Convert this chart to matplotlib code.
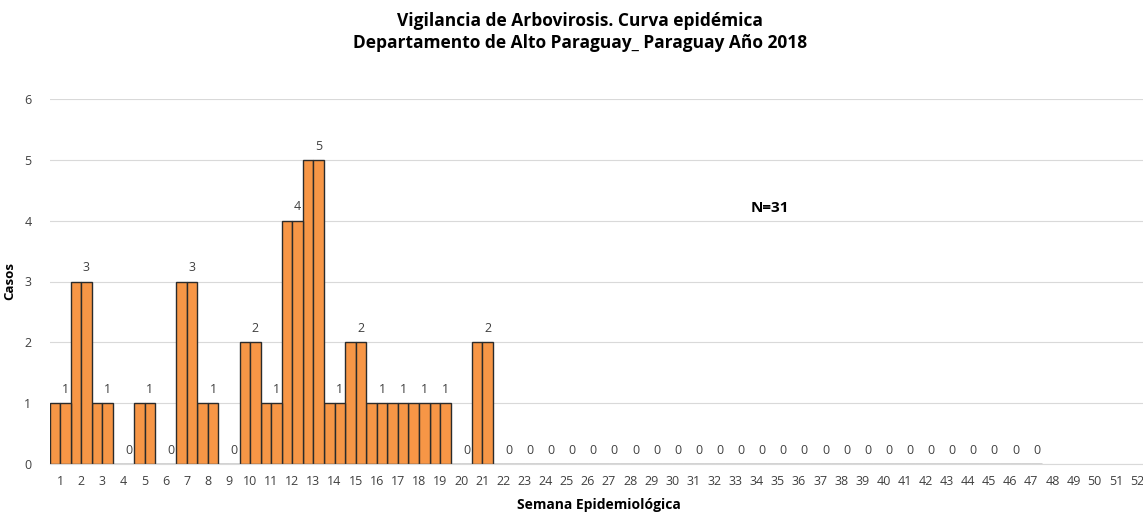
import matplotlib
matplotlib.use("Agg")
import matplotlib.pyplot as plt
import numpy as np

plt.rcParams['font.family'] = ['Open Sans', 'DejaVu Sans']

weeks = list(range(1, 53))
casos = [1, 3, 1, 0, 1, 0, 3, 1, 0, 2, 1, 4, 5, 1, 2, 1, 1, 1, 1, 0, 2] + [0] * 26 + [None] * 5
title = "Vigilancia de Arbovirosis. Curva epidémica\nDepartamento de Alto Paraguay_ Paraguay Año 2018"
note = "N=31"

fig = plt.figure(figsize=(11.43, 5.13), dpi=100)
W, H = 1143, 513
left_px, right_px = 49.5, 1147.5
top_px, bot_px = 99, 464
ax = fig.add_axes([left_px / W, 1 - bot_px / H, (right_px - left_px) / W, (bot_px - top_px) / H])

x = np.array(weeks, dtype=float)
vals = np.array([np.nan if v is None else v for v in casos], dtype=float)
mask = ~np.isnan(vals)
bw = 0.5
face = '#F79646'
edge = '#2b2b2b'
ax.bar(x[mask] - bw / 2, vals[mask], width=bw, color=face, edgecolor=edge, linewidth=1.0, zorder=3)
ax.bar(x[mask] + bw / 2, vals[mask], width=bw, color=face, edgecolor=edge, linewidth=1.0, zorder=3)

for xi, v in zip(x[mask], vals[mask]):
    ax.text(xi + bw / 2, v + 0.12, f"{int(v)}", ha='center', va='bottom', fontsize=9, color='#404040')

ax.set_xlim(0.5, 52.5)
ax.set_ylim(0, 6)
ax.set_xticks(weeks)
ax.set_xticklabels([str(w) for w in weeks])
ax.set_yticks(range(0, 7))
ax.tick_params(axis='both', length=0, labelsize=9, labelcolor='#404040')
ax.tick_params(axis='y', pad=13)
ax.tick_params(axis='x', pad=8)
ax.grid(axis='y', color='#d9d9d9', linewidth=0.8, zorder=0)
for s in ['top', 'right', 'left']:
    ax.spines[s].set_visible(False)
ax.spines['bottom'].set_color('#d9d9d9')
ax.spines['bottom'].set_zorder(4)

ax.set_ylabel("Casos", fontsize=9.5, fontweight='bold', labelpad=6)
ax.set_xlabel("Semana Epidemiológica", fontsize=10, fontweight='bold', labelpad=7)
ax.text(34.6, 4.2, note, fontsize=11, fontweight='bold', ha='center', va='center')

fig.text(580 / W, 1 - 32 / H, title, ha='center', va='center', fontsize=12.5, fontweight='bold', linespacing=1.35)

fig.savefig("out.png", dpi=100)
